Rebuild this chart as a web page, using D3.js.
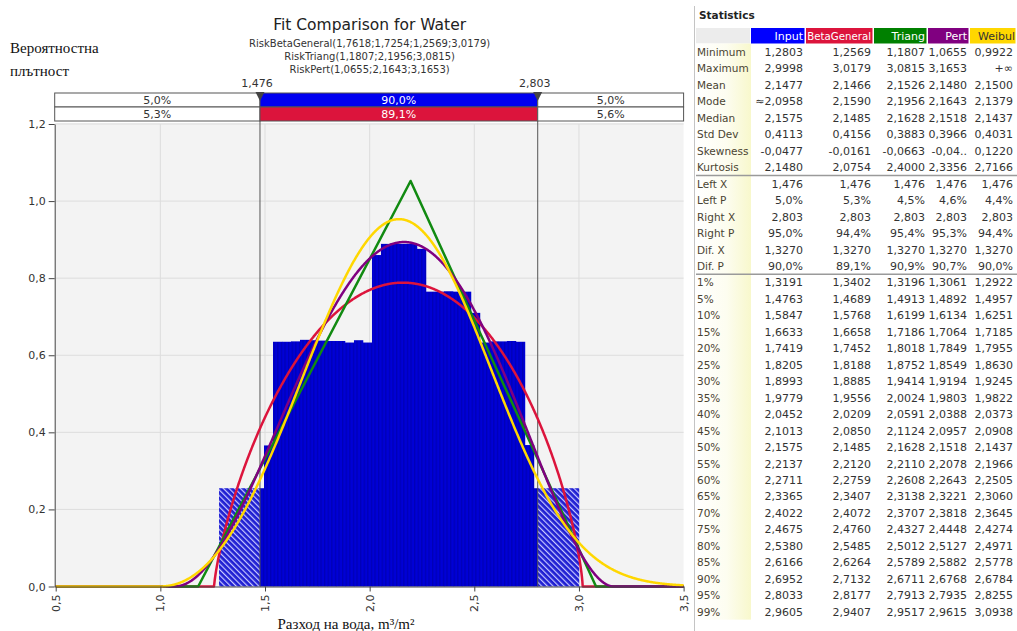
<!DOCTYPE html>
<html>
<head>
<meta charset="utf-8">
<script src="https://cdn.jsdelivr.net/npm/d3@7"></script>
<style>
  html, body { margin: 0; padding: 0; background: #fff; }
  svg { display: block; }
  text { font-family: "DejaVu Sans", Verdana, sans-serif; }
</style>
</head>
<body>
<svg id="chart" width="1017" height="631"></svg>
<script>
// ---------- chart data ----------
const xTicks = [0.5, 1.0, 1.5, 2.0, 2.5, 3.0, 3.5];
const yTicks = [0.0, 0.2, 0.4, 0.6, 0.8, 1.0, 1.2];

// histogram of the simulated input: 40 equal bins between min and max
const histMin = 1.2803;
const histMax = 2.9998;
const histDensity = [
  0.255, 0.255, 0.255, 0.255, 0.255, 0.366,
  0.635, 0.635, 0.636, 0.640, 0.639, 0.638, 0.637, 0.637, 0.633, 0.639, 0.633,
  0.860, 0.889, 0.890, 0.889, 0.889, 0.876,
  0.765, 0.765, 0.766, 0.765, 0.765, 0.710,
  0.633, 0.636, 0.636, 0.637, 0.635, 0.367,
  0.255, 0.255, 0.255, 0.255, 0.255
];

// delimiters and the probabilities between them
const delimiters = [1.476, 2.803];
const delimiterLabels = ["1,476", "2,803"];
const inputBand = ["5,0%", "90,0%", "5,0%"];
const betaBand = ["5,3%", "89,1%", "5,6%"];

// fitted distributions
const betaParams = [1.7618, 1.7254, 1.2569, 3.0179];   // alpha1, alpha2, min, max
const triangParams = [1.1807, 2.1956, 3.0815];         // min, mode, max
const pertParams = [1.0655, 2.1643, 3.1653];           // min, mode, max
const weibullParams = [3.17, 1.294, 0.9922];           // shape, scale, shift

const fitNames = ["RiskBetaGeneral(1,7618;1,7254;1,2569;3,0179)",
                  "RiskTriang(1,1807;2,1956;3,0815)",
                  "RiskPert(1,0655;2,1643;3,1653)"];

// statistics table
const statLabels = ["Minimum", "Maximum", "Mean", "Mode", "Median", "Std Dev", "Skewness", "Kurtosis",
  "Left X", "Left P", "Right X", "Right P", "Dif. X", "Dif. P",
  "1%", "5%", "10%", "15%", "20%", "25%", "30%", "35%", "40%", "45%", "50%",
  "55%", "60%", "65%", "70%", "75%", "80%", "85%", "90%", "95%", "99%"];
const statInput = ["1,2803", "2,9998", "2,1477", "≈2,0958", "2,1575", "0,4113", "-0,0477", "2,1480",
  "1,476", "5,0%", "2,803", "95,0%", "1,3270", "90,0%",
  "1,3191", "1,4763", "1,5847", "1,6633", "1,7419", "1,8205", "1,8993", "1,9779", "2,0452", "2,1013", "2,1575",
  "2,2137", "2,2711", "2,3365", "2,4022", "2,4675", "2,5380", "2,6166", "2,6952", "2,8033", "2,9605"];
const statBeta = ["1,2569", "3,0179", "2,1466", "2,1590", "2,1485", "0,4156", "-0,0161", "2,0754",
  "1,476", "5,3%", "2,803", "94,4%", "1,3270", "89,1%",
  "1,3402", "1,4689", "1,5768", "1,6658", "1,7452", "1,8188", "1,8885", "1,9556", "2,0209", "2,0850", "2,1485",
  "2,2120", "2,2759", "2,3407", "2,4072", "2,4760", "2,5485", "2,6264", "2,7132", "2,8177", "2,9407"];
const statTriang = ["1,1807", "3,0815", "2,1526", "2,1956", "2,1628", "0,3883", "-0,0663", "2,4000",
  "1,476", "4,5%", "2,803", "95,4%", "1,3270", "90,9%",
  "1,3196", "1,4913", "1,6199", "1,7186", "1,8018", "1,8752", "1,9414", "2,0024", "2,0591", "2,1124", "2,1628",
  "2,2110", "2,2608", "2,3138", "2,3707", "2,4327", "2,5012", "2,5789", "2,6711", "2,7913", "2,9517"];
const statPert = ["1,0655", "3,1653", "2,1480", "2,1643", "2,1518", "0,3966", "-0,04..", "2,3356",
  "1,476", "4,6%", "2,803", "95,3%", "1,3270", "90,7%",
  "1,3061", "1,4892", "1,6134", "1,7064", "1,7849", "1,8549", "1,9194", "1,9803", "2,0388", "2,0957", "2,1518",
  "2,2078", "2,2643", "2,3221", "2,3818", "2,4448", "2,5127", "2,5882", "2,6768", "2,7935", "2,9615"];
const statWeibull = ["0,9922", "+∞", "2,1500", "2,1379", "2,1437", "0,4031", "0,1220", "2,7166",
  "1,476", "4,4%", "2,803", "94,4%", "1,3270", "90,0%",
  "1,2922", "1,4957", "1,6251", "1,7185", "1,7955", "1,8630", "1,9245", "1,9822", "2,0373", "2,0908", "2,1437",
  "2,1966", "2,2505", "2,3060", "2,3645", "2,4274", "2,4971", "2,5778", "2,6784", "2,8255", "3,0938"];

const statColumns = [
  { name: "Input",       values: statInput,   fill: "#0000ff", text: "#ffffff" },
  { name: "BetaGeneral", values: statBeta,    fill: "#dc143c", text: "#ffffff" },
  { name: "Triang",      values: statTriang,  fill: "#008000", text: "#ffffff" },
  { name: "Pert",        values: statPert,    fill: "#800080", text: "#ffffff" },
  { name: "Weibul",      values: statWeibull, fill: "#ffd700", text: "#333333" }
];

// ---------- density functions of the fitted distributions ----------
function logGamma(z) {
  const g = 7;
  const c = [0.99999999999980993, 676.5203681218851, -1259.1392167224028, 771.32342877765313,
    -176.61502916214059, 12.507343278686905, -0.13857109526572012, 9.9843695780195716e-6,
    1.5056327351493116e-7];
  if (z < 0.5) return Math.log(Math.PI / Math.sin(Math.PI * z)) - logGamma(1 - z);
  z -= 1;
  let a = c[0];
  const t = z + g + 0.5;
  for (let i = 1; i < g + 2; i++) a += c[i] / (z + i);
  return 0.5 * Math.log(2 * Math.PI) + (z + 0.5) * Math.log(t) - t + Math.log(a);
}
function betaPdf(x, a1, a2, lo, hi) {
  if (x <= lo || x >= hi) return 0;
  const lb = logGamma(a1) + logGamma(a2) - logGamma(a1 + a2);
  const u = (x - lo) / (hi - lo);
  return Math.exp((a1 - 1) * Math.log(u) + (a2 - 1) * Math.log(1 - u) - lb) / (hi - lo);
}
function pertPdf(x, lo, mode, hi) {
  const a1 = 1 + 4 * (mode - lo) / (hi - lo);
  const a2 = 1 + 4 * (hi - mode) / (hi - lo);
  return betaPdf(x, a1, a2, lo, hi);
}
function weibullPdf(x, k, lambda, shift) {
  const z = (x - shift) / lambda;
  if (z <= 0) return 0;
  return (k / lambda) * Math.pow(z, k - 1) * Math.exp(-Math.pow(z, k));
}

// ---------- layout ----------
const svg = d3.select("#chart");
const plot = { left: 55.7, right: 683.6, top: 124, bottom: 586.5 };
const x = d3.scaleLinear().domain([0.5, 3.5]).range([plot.left, plot.right]);
const y = d3.scaleLinear().domain([0, 1.2]).range([plot.bottom, plot.top]);
const comma = v => d3.format(".1f")(v).replace(".", ",");

const defs = svg.append("defs");
const hatch = defs.append("pattern").attr("id", "hatch")
  .attr("patternUnits", "userSpaceOnUse").attr("width", 4).attr("height", 4)
  .attr("patternTransform", "rotate(-45)");
hatch.append("rect").attr("width", 4).attr("height", 4).attr("fill", "#1f1fd2");
hatch.append("line").attr("x1", 0.6).attr("y1", 0).attr("x2", 0.6).attr("y2", 4)
  .attr("stroke", "#c9c9ff").attr("stroke-width", 1.2);

const stripe = defs.append("pattern").attr("id", "stripe")
  .attr("patternUnits", "userSpaceOnUse").attr("width", 3.6).attr("height", 10);
stripe.append("rect").attr("width", 3.6).attr("height", 10).attr("fill", "#0000d6");
stripe.append("rect").attr("width", 1.3).attr("height", 10).attr("fill", "#0000b6");

const labelGrad = defs.append("linearGradient").attr("id", "labelGrad")
  .attr("x1", 0).attr("x2", 1).attr("y1", 0).attr("y2", 0);
labelGrad.append("stop").attr("offset", "0%").attr("stop-color", "#ffffff");
labelGrad.append("stop").attr("offset", "55%").attr("stop-color", "#fdfdf0");
labelGrad.append("stop").attr("offset", "100%").attr("stop-color", "#f8f8cc");

// plot background and grid
svg.append("rect").attr("x", plot.left - 1).attr("y", plot.top - 1)
  .attr("width", plot.right - plot.left + 1).attr("height", plot.bottom - plot.top + 1)
  .attr("fill", "#f3f3f3");
svg.append("g").selectAll("line").data(yTicks.filter(d => d > 0)).join("line")
  .attr("x1", plot.left).attr("x2", plot.right)
  .attr("y1", d => y(d)).attr("y2", d => y(d))
  .attr("stroke", "#dddddd").attr("stroke-width", 1);
svg.append("g").selectAll("line").data(xTicks.slice(1, -1)).join("line")
  .attr("x1", d => x(d)).attr("x2", d => x(d))
  .attr("y1", plot.top).attr("y2", plot.bottom)
  .attr("stroke", "#dddddd").attr("stroke-width", 1);

// histogram, hatched outside the delimiters
const binW = (histMax - histMin) / histDensity.length;
const pieces = [];
histDensity.forEach((h, i) => {
  const a = histMin + i * binW, b = a + binW;
  const cuts = [a, ...delimiters.filter(d => d > a && d < b), b];
  for (let j = 0; j < cuts.length - 1; j++) {
    const mid = (cuts[j] + cuts[j + 1]) / 2;
    pieces.push({ x0: cuts[j], x1: cuts[j + 1], h,
      outside: mid < delimiters[0] || mid > delimiters[1] });
  }
});
svg.append("g").selectAll("rect").data(pieces).join("rect")
  .attr("x", d => x(d.x0)).attr("width", d => x(d.x1) - x(d.x0) + 0.3)
  .attr("y", d => y(d.h)).attr("height", d => y(0) - y(d.h))
  .attr("fill", d => d.outside ? "url(#hatch)" : "url(#stripe)");

// delimiter lines
svg.append("g").selectAll("line").data(delimiters).join("line")
  .attr("x1", d => x(d)).attr("x2", d => x(d))
  .attr("y1", 93).attr("y2", plot.bottom)
  .attr("stroke", "#555").attr("stroke-width", 1);

// fitted curves
const samples = d3.range(0.5, 3.5 + 1e-9, 0.002);
const line = d3.line().x(d => x(d[0])).y(d => y(d[1]));
const betaPts = samples.map(v => [v, betaPdf(v, ...betaParams)]);
const triPeak = 2 / (triangParams[2] - triangParams[0]);
const triPts = [[0.5, 0], [triangParams[0], 0], [triangParams[1], triPeak], [triangParams[2], 0], [3.5, 0]];
const pertPts = samples.map(v => [v, pertPdf(v, ...pertParams)]);
const weibPts = samples.map(v => [v, weibullPdf(v, ...weibullParams)]);
const curves = [
  { pts: betaPts, color: "#dc143c" },
  { pts: triPts, color: "#118a11" },
  { pts: pertPts, color: "#800080" },
  { pts: weibPts, color: "#ffd700" }
];
svg.append("g").selectAll("path").data(curves).join("path")
  .attr("d", d => line(d.pts))
  .attr("fill", "none").attr("stroke", d => d.color)
  .attr("stroke-width", 2.5).attr("stroke-linejoin", "round");

// axes
const yAxis = svg.append("g").attr("transform", `translate(${plot.left - 1},0)`)
  .call(d3.axisLeft(y).tickValues(yTicks).tickFormat(comma).tickSize(6).tickSizeOuter(0).tickPadding(3));
const xAxis = svg.append("g").attr("transform", `translate(0,${plot.bottom})`)
  .call(d3.axisBottom(x).tickValues(xTicks).tickFormat(comma).tickSize(5).tickSizeOuter(0));
[yAxis, xAxis].forEach(g => {
  g.select(".domain").attr("stroke", "#444");
  g.selectAll(".tick line").attr("stroke", "#444");
  g.selectAll("text").attr("fill", "#333").style("font-size", "11px")
    .style("font-family", '"DejaVu Sans", Verdana, sans-serif');
});
xAxis.selectAll(".tick text")
  .attr("y", null).attr("dy", null)
  .attr("transform", "translate(0,8) rotate(-90)")
  .attr("text-anchor", "end").attr("dominant-baseline", "central");

// delimiter band boxes
const bandX = [plot.left - 1, x(delimiters[0]), x(delimiters[1]), plot.right];
const bands = [
  { y0: 93, labels: inputBand, mid: "#0000f0" },
  { y0: 107, labels: betaBand, mid: "#dc143c" }
];
bands.forEach(b => {
  const g = svg.append("g");
  [0, 1, 2].forEach(i => {
    g.append("rect").attr("x", bandX[i]).attr("y", b.y0)
      .attr("width", bandX[i + 1] - bandX[i]).attr("height", 14)
      .attr("fill", i === 1 ? b.mid : "#ffffff")
      .attr("stroke", "#555").attr("stroke-width", 1);
    g.append("text").attr("x", (bandX[i] + bandX[i + 1]) / 2).attr("y", b.y0 + 11)
      .attr("text-anchor", "middle").style("font-size", "11px")
      .attr("fill", i === 1 ? "#ffffff" : "#333").text(b.labels[i]);
  });
});

// delimiter markers
delimiters.forEach((d, i) => {
  const cx = x(d);
  svg.append("path").attr("d", `M${cx - 4.5},92 L${cx + 4.5},92 L${cx},101 Z`).attr("fill", "#444");
  svg.append("text").attr("x", cx - 3).attr("y", 87).attr("text-anchor", "middle")
    .style("font-size", "11px").attr("fill", "#333").text(delimiterLabels[i]);
});

// titles
const cx = (plot.left + plot.right) / 2;
svg.append("text").attr("x", cx).attr("y", 30).attr("text-anchor", "middle")
  .style("font-size", "15.5px").attr("fill", "#222").text("Fit Comparison for Water");
fitNames.forEach((t, i) => {
  svg.append("text").attr("x", cx).attr("y", 47 + i * 13).attr("text-anchor", "middle")
    .style("font-size", "10px").attr("fill", "#333").text(t);
});

const serif = '"Liberation Serif", "Times New Roman", serif';
svg.append("text").attr("x", 10).attr("y", 53).style("font-family", serif)
  .style("font-size", "15px").attr("fill", "#111").text("Вероятностна");
svg.append("text").attr("x", 10).attr("y", 76).style("font-family", serif)
  .style("font-size", "15px").attr("fill", "#111").text("плътност");
svg.append("text").attr("x", 346).attr("y", 629).attr("text-anchor", "middle").style("font-family", serif)
  .style("font-size", "15px").attr("fill", "#111").text("Разход на вода, m³/m²");

// ---------- statistics table ----------
const tbl = svg.append("g");
tbl.append("line").attr("x1", 694.5).attr("x2", 694.5).attr("y1", 6).attr("y2", 631)
  .attr("stroke", "#c4c4c4").attr("stroke-width", 1);
tbl.append("text").attr("x", 699).attr("y", 19).style("font-size", "10.5px")
  .style("font-weight", "bold").attr("fill", "#222").text("Statistics");

const colEdges = [751, 806, 874, 928, 970, 1017];
const rowH = 16.46, row0 = 52;
const headTop = 28, headH = 15.5;

tbl.append("rect").attr("x", 696).attr("y", headTop).attr("width", colEdges[0] - 697)
  .attr("height", headH).attr("fill", "#ececec");
tbl.append("rect").attr("x", 696).attr("y", headTop + headH)
  .attr("width", colEdges[0] - 696).attr("height", row0 + 34 * rowH + 8 - headTop - headH)
  .attr("fill", "url(#labelGrad)");

statColumns.forEach((c, i) => {
  const x0 = colEdges[i], x1 = colEdges[i + 1];
  tbl.append("rect").attr("x", x0).attr("y", headTop).attr("width", x1 - x0 - 1.5)
    .attr("height", headH).attr("fill", c.fill);
  const right = i === 4 ? 1015 : x1 - 3;
  tbl.append("text").attr("x", right).attr("y", headTop + 11.5).attr("text-anchor", "end")
    .style("font-size", i === 1 ? "10.2px" : "11px").attr("fill", c.text).text(c.name);
  tbl.append("g").selectAll("text").data(c.values).join("text")
    .attr("x", i === 4 ? 1013 : x1 - 3)
    .attr("y", (d, r) => row0 + r * rowH + 4)
    .attr("text-anchor", "end").style("font-size", "11px").attr("fill", "#333")
    .text(d => d);
});
tbl.append("g").selectAll("text").data(statLabels).join("text")
  .attr("x", 697).attr("y", (d, r) => row0 + r * rowH + 4)
  .style("font-size", "10.5px").attr("fill", "#4a4432").text(d => d);

// group separators
[7.5, 13.5].forEach(r => {
  tbl.append("line").attr("x1", 696).attr("x2", 1017)
    .attr("y1", row0 + r * rowH).attr("y2", row0 + r * rowH)
    .attr("stroke", "#9a9a9a").attr("stroke-width", 1.5);
});
</script>
</body>
</html>
